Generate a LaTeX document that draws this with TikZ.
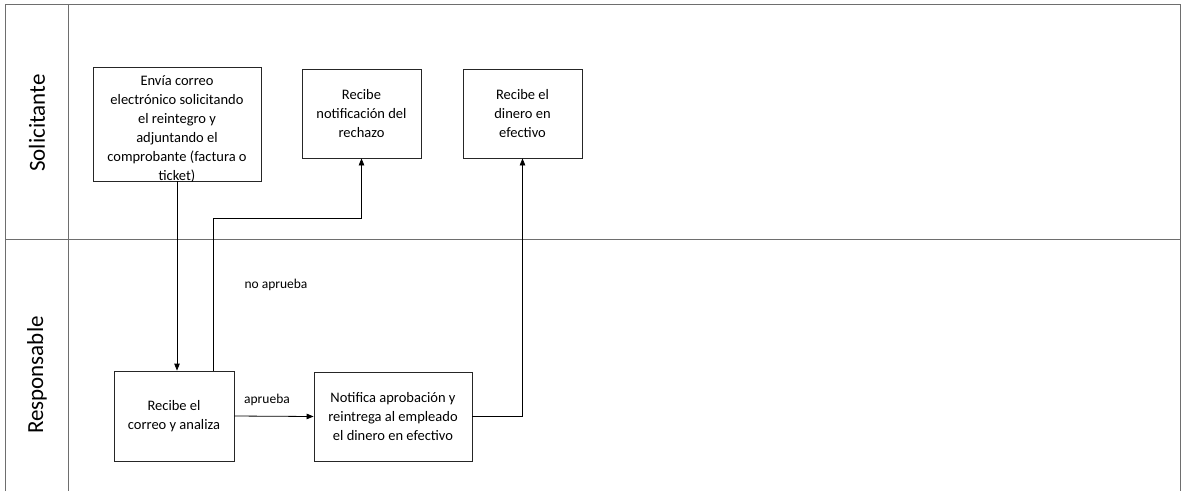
\documentclass[tikz,border=0pt]{standalone}
\usepackage{fontspec}
\setmainfont{Carlito}
\usetikzlibrary{arrows.meta,calc}
\definecolor{framegray}{HTML}{6E6E6E}
\tikzset{
  frameline/.style={draw=framegray, line width=0.9pt},
  stepbox/.style={draw=black!85, line width=0.8pt, fill=white, align=center, inner sep=0pt,
    font=\fontsize{14.5}{19}\selectfont},
  boxtext/.style={align=center, inner sep=0pt, font=\fontsize{14.5}{19}\selectfont},
  conn/.style={draw=black, line width=0.8pt},
  arr/.style={conn, -{Triangle[length=7pt,width=5.5pt]}},
  flowlabel/.style={font=\fontsize{13.5}{16}\selectfont, inner sep=0pt},
  lanelabel/.style={font=\fontsize{23}{26}\selectfont, rotate=90, inner sep=0pt}
}
\begin{document}
\begin{tikzpicture}[x=1pt,y=-1pt]
\useasboundingbox (0,0) rectangle (1181,491);
% frame
\coordinate (tl) at (5,4);
\coordinate (tr) at (1180,4);
\coordinate (bl) at (5,491);
\coordinate (br) at (1180,491);
\coordinate (ct) at (68,4);
\coordinate (cb) at (68,491);
\coordinate (ml) at (5,239);
\coordinate (mr) at (1180,239);
\draw[frameline] (bl) -- (tl) -- (tr) -- (br);
\draw[frameline] (ct) -- (cb);
\draw[frameline] (ml) -- (mr);
% lane labels
\node[lanelabel] (lane1) at (37,123) {Solicitante};
\node[lanelabel] (lane2) at (37,375) {Responsable};
% boxes
\node[stepbox, minimum width=168pt, minimum height=114pt] (b1) at (177,124) {};
\node[boxtext] (t1) at ($(b1.center)+(0,5)$)
  {Envía correo\\electrónico solicitando\\el reintegro y\\adjuntando el\\comprobante (factura o\\ticket)};
\node[stepbox, minimum width=119pt, minimum height=89pt] (b2) at (361.5,113.5)
  {Recibe\\notificación del\\rechazo};
\node[stepbox, minimum width=119pt, minimum height=89pt] (b3) at (522.5,113.5)
  {Recibe el\\dinero en\\efectivo};
\node[stepbox, minimum width=120pt, minimum height=90pt] (b4) at (174,416)
  {Recibe el\\correo y analiza};
\node[stepbox, minimum width=158pt, minimum height=89pt] (b5) at (393,416.5)
  {Notifica aprobación y\\reintrega al empleado\\el dinero en efectivo};
% connectors
\draw[arr] (b1.south) -- (b1.south |- b4.north);
\coordinate (nt) at ($(b4.north)+(39,0)$);
\draw[arr] (nt) -- ++(0,-152) -| (b2.south);
\draw[arr] (b4.east) -- (b5.west);
\draw[arr] (b5.east) -| (b3.south);
% labels
\node[flowlabel] (lno) at (276,285) {no aprueba};
\node[flowlabel] (lsi) at (267,400) {aprueba};
\end{tikzpicture}
\end{document}
